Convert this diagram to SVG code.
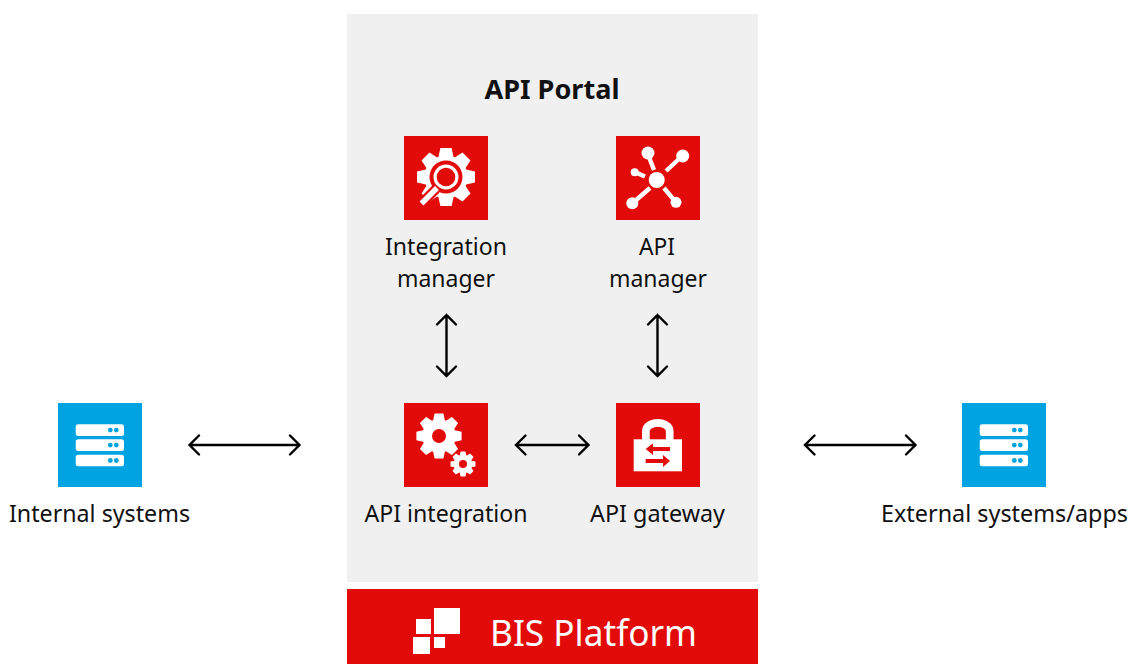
<svg xmlns="http://www.w3.org/2000/svg" xmlns:xlink="http://www.w3.org/1999/xlink" width="1135" height="664" viewBox="0 0 1135 664">
<style>
text{font-family:"Noto Sans","Open Sans",sans-serif;fill:#111;font-size:23.5px;text-anchor:middle}
.red{fill:#e20b0a}.blue{fill:#00a3e2}.w{fill:#fff}
.c{fill:none;stroke:#000;stroke-width:2.4;stroke-linecap:round;stroke-linejoin:miter}
.hub{stroke:#fff;stroke-width:4.4;fill:none}
</style>
<defs>
<g id="gear"><circle r="21.5" class="w"/><polygon class="w" id="t" points="-5.6,-29 5.6,-29 7.8,-19 -7.8,-19"/>
<use xlink:href="#t" transform="rotate(45)"/><use xlink:href="#t" transform="rotate(90)"/><use xlink:href="#t" transform="rotate(135)"/><use xlink:href="#t" transform="rotate(180)"/><use xlink:href="#t" transform="rotate(225)"/><use xlink:href="#t" transform="rotate(270)"/><use xlink:href="#t" transform="rotate(315)"/></g>
<g id="server">
<rect x="17.7" y="21.3" width="48.3" height="11.6" rx="2.5" class="w"/><rect x="17.7" y="36.3" width="48.3" height="11.6" rx="2.5" class="w"/><rect x="17.7" y="51.7" width="48.3" height="11.6" rx="2.5" class="w"/>
<g class="blue"><circle cx="52.3" cy="27.1" r="2.4"/><circle cx="58.3" cy="27.1" r="2.4"/><circle cx="52.3" cy="42.1" r="2.4"/><circle cx="58.3" cy="42.1" r="2.4"/><circle cx="52.3" cy="57.5" r="2.4"/><circle cx="58.3" cy="57.5" r="2.4"/></g>
</g>
</defs>
<rect id="panel" x="347" y="14" width="411" height="568" fill="#f0f0f0"/>
<text x="552" y="99" style="font-weight:700;font-size:27px" textLength="135" lengthAdjust="spacingAndGlyphs">API Portal</text>
<g id="integration-manager">
<rect x="404" y="136" width="84" height="84" class="red"/>
<use xlink:href="#gear" transform="translate(446 177)"/>
<circle cx="446" cy="177" r="16.5" class="red"/>
<line x1="419" y1="206" x2="436" y2="189" stroke="#e20b0a" stroke-width="10"/>
<circle cx="446" cy="177" r="12.5" class="w"/><circle cx="446" cy="177" r="9.3" class="red"/>
<line x1="421.5" y1="203.5" x2="437" y2="188" stroke="#fff" stroke-width="5.5"/>
<text x="446" y="255" textLength="122" lengthAdjust="spacingAndGlyphs">Integration</text>
<text x="446" y="287" textLength="98" lengthAdjust="spacingAndGlyphs">manager</text>
</g>
<g id="api-manager">
<rect x="616" y="136" width="84" height="84" class="red"/>
<path class="hub" d="M654 170L649 157M666 171L680 158M645 176.500L637 173M650 188L635 201M664 188L674 200"/>
<g class="w"><circle cx="656.700" cy="180" r="8"/><circle cx="648" cy="153" r="6.500"/><circle cx="682.700" cy="156" r="6.500"/><circle cx="634.700" cy="172.300" r="4"/><circle cx="632.300" cy="203.300" r="6"/><circle cx="676" cy="202.300" r="5.500"/></g>
<text x="657" y="255" textLength="36" lengthAdjust="spacingAndGlyphs">API</text>
<text x="658" y="287" textLength="98" lengthAdjust="spacingAndGlyphs">manager</text>
</g>
<g id="api-integration">
<rect x="404" y="403" width="84" height="84" class="red"/>
<use xlink:href="#gear" transform="translate(439 436) scale(.78)"/><circle cx="439" cy="436" r="7" class="red"/>
<use xlink:href="#gear" transform="translate(463 464) scale(.43)"/><circle cx="463" cy="464" r="4" class="red"/>
<text x="446" y="522" textLength="163" lengthAdjust="spacingAndGlyphs">API integration</text>
</g>
<g id="api-gateway">
<rect x="616" y="403" width="84" height="84" class="red"/>
<path d="M645.900 440V430.900a11.900 8 0 0 1 11.900-8a11.900 8 0 0 1 11.900 8V440" fill="none" stroke="#fff" stroke-width="7.700"/>
<rect x="633.700" y="439.300" width="48.300" height="32" class="w"/>
<path class="red" d="M645.700 449L653 443.300V447H670V451H653V455ZM670 461L663 455V459H645.700V463H663V467Z"/>
<text x="657.500" y="522" textLength="135" lengthAdjust="spacingAndGlyphs">API gateway</text>
</g>
<g id="internal-systems">
<rect x="58" y="403" width="84" height="84" class="blue"/>
<use xlink:href="#server" transform="translate(58 403)"/>
<text x="99.500" y="522" textLength="181" lengthAdjust="spacingAndGlyphs">Internal systems</text>
</g>
<g id="external-systems">
<rect x="962" y="403" width="84" height="84" class="blue"/>
<use xlink:href="#server" transform="translate(962 403)"/>
<text x="1004.500" y="522" textLength="247" lengthAdjust="spacingAndGlyphs">External systems/apps</text>
</g>
<g id="bis-platform">
<rect x="347" y="589" width="411" height="75" class="red"/>
<g class="w"><rect x="434" y="608" width="26" height="26"/><rect x="416" y="619" width="15" height="15"/><rect x="413" y="637" width="17" height="17"/><rect x="434" y="637" width="11" height="11"/></g>
<text x="593.500" y="646" style="fill:#fff;font-size:36px" textLength="207" lengthAdjust="spacingAndGlyphs">BIS Platform</text>
</g>
<g id="connectors" class="c">
<path d="M190 445H299M199 435.500L189.500 445L199 454.500M290 435.500L299.500 445L290 454.500"/>
<path d="M516 445H588M525.500 435.500L516 445L525.500 454.500M579 435.500L588.500 445L579 454.500"/>
<path d="M805 445H915M814.500 435.500L805 445L814.500 454.500M906 435.500L915.500 445L906 454.500"/>
<path d="M446.500 315V376M437 324.500L446.500 315L456 324.500M437 366.500L446.500 376L456 366.500"/>
<path d="M657.500 315V376M648 324.500L657.500 315L667 324.500M648 366.500L657.500 376L667 366.500"/>
</g>
</svg>
